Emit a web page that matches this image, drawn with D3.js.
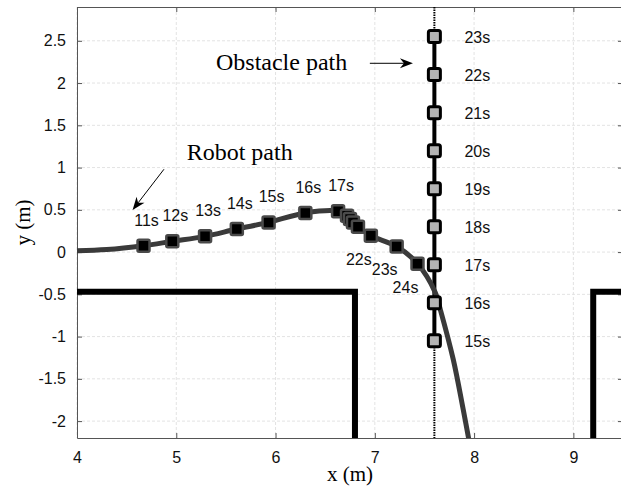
<!DOCTYPE html>
<html>
<head>
<meta charset="utf-8">
<script src="https://cdn.jsdelivr.net/npm/d3@7"></script>
<style>
  body { margin: 0; background: #fff; }
  svg { display: block; }
</style>
</head>
<body>
<div id="chart"></div>
<script>
// robot trajectory (dense line) and time-stamped robot positions
const pathX = [4.0, 4.3, 4.67, 4.96, 5.29, 5.61, 5.93, 6.30, 6.63, 6.72, 6.75, 6.78, 6.83, 6.96, 7.22, 7.43, 7.61, 7.66, 7.79, 7.89, 7.96];
const pathY = [0.017, 0.03, 0.075, 0.127, 0.186, 0.273, 0.351, 0.463, 0.483, 0.43, 0.39, 0.35, 0.30, 0.194, 0.067, -0.137, -0.48, -0.68, -1.27, -1.86, -2.3];

const robotT = [11, 12, 13, 14, 15, 16, 17, 18, 19, 20, 21, 22, 23, 24];
const robotX = [4.67, 4.96, 5.29, 5.61, 5.93, 6.30, 6.63, 6.72, 6.75, 6.78, 6.83, 6.96, 7.22, 7.43];
const robotY = [0.075, 0.127, 0.186, 0.273, 0.351, 0.463, 0.483, 0.43, 0.39, 0.35, 0.30, 0.194, 0.067, -0.137];
const robotLabelled = [11, 12, 13, 14, 15, 16, 17, 22, 23, 24];

// obstacle positions
const obsT = [15, 16, 17, 18, 19, 20, 21, 22, 23];
const obsX = 7.6;
const obsY = [-1.05, -0.6, -0.15, 0.3, 0.75, 1.2, 1.65, 2.1, 2.55];

// walls
const wallLeftX = [4.0, 6.8, 6.8];
const wallLeftY = [-0.47, -0.47, -2.2];
const wallRightX = [9.5, 9.2, 9.2];
const wallRightY = [-0.47, -0.47, -2.2];

const xTicks = [4, 5, 6, 7, 8, 9];
const yTicks = [-2, -1.5, -1, -0.5, 0, 0.5, 1, 1.5, 2, 2.5];

const W = 621, H = 489;
const x = d3.scaleLinear().domain([4, 9.5]).range([77, 623]);
const y = d3.scaleLinear().domain([-2.2, 2.9]).range([438, 7]);

const svg = d3.select("#chart").append("svg")
    .attr("width", W)
    .attr("height", H);

svg.append("defs").append("clipPath").attr("id", "clip")
  .append("rect")
    .attr("x", x(4)).attr("y", y(2.9))
    .attr("width", x(9.5) - x(4)).attr("height", y(-2.2) - y(2.9));

// grid
const grid = svg.append("g").attr("class", "grid");
grid.selectAll(".gx").data(xTicks).enter().append("line")
    .attr("x1", d => x(d)).attr("x2", d => x(d))
    .attr("y1", y(2.9)).attr("y2", y(-2.2))
    .attr("stroke", "#e3e3e3").attr("stroke-dasharray", "3,2");
grid.selectAll(".gy").data(yTicks).enter().append("line")
    .attr("x1", x(4)).attr("x2", x(9.5))
    .attr("y1", d => y(d)).attr("y2", d => y(d))
    .attr("stroke", "#e3e3e3").attr("stroke-dasharray", "3,2");

// axes (MATLAB box, ticks inward on all sides)
const axisColor = "#555";
const styleAxis = g => {
    g.select(".domain").attr("stroke", axisColor);
    g.selectAll(".tick line").attr("stroke", axisColor);
    g.selectAll(".tick text")
        .attr("fill", "#111")
        .style("font-family", "'Liberation Sans', Arial, sans-serif")
        .style("font-size", "16px");
};
svg.append("g")
    .attr("transform", `translate(0,${y(-2.2)})`)
    .call(d3.axisBottom(x).tickValues(xTicks).tickSizeInner(-5).tickSizeOuter(0).tickPadding(14).tickFormat(d3.format("d")))
    .call(styleAxis);
svg.append("g")
    .attr("transform", `translate(0,${y(2.9)})`)
    .call(d3.axisTop(x).tickValues(xTicks).tickSizeInner(-5).tickSizeOuter(0).tickFormat(""))
    .call(styleAxis);
svg.append("g")
    .attr("transform", `translate(${x(4)},0)`)
    .call(d3.axisLeft(y).tickValues(yTicks).tickSizeInner(-5).tickSizeOuter(0).tickPadding(11).tickFormat(d => d3.format("")(d).replace("−", "-")))
    .call(styleAxis);
svg.append("g")
    .attr("transform", `translate(${x(9.5)},0)`)
    .call(d3.axisRight(y).tickValues(yTicks).tickSizeInner(-5).tickSizeOuter(0).tickFormat(""))
    .call(styleAxis);

const plot = svg.append("g").attr("clip-path", "url(#clip)");

// walls
const wallLine = d3.line().x(d => x(d[0])).y(d => y(d[1]));
plot.append("path")
    .datum(d3.zip(wallLeftX, wallLeftY))
    .attr("d", wallLine)
    .attr("fill", "none").attr("stroke", "#000").attr("stroke-width", 6)
    .attr("stroke-linejoin", "miter");
plot.append("path")
    .datum(d3.zip(wallRightX, wallRightY))
    .attr("d", wallLine)
    .attr("fill", "none").attr("stroke", "#000").attr("stroke-width", 6)
    .attr("stroke-linejoin", "miter");

// obstacle path: dotted extension + solid segment
plot.append("line")
    .attr("x1", x(obsX)).attr("x2", x(obsX))
    .attr("y1", y(2.9)).attr("y2", y(-2.2))
    .attr("stroke", "#000").attr("stroke-width", 2).attr("stroke-dasharray", "1.5,1");
plot.append("line")
    .attr("x1", x(obsX)).attr("x2", x(obsX))
    .attr("y1", y(d3.min(obsY))).attr("y2", y(d3.max(obsY)))
    .attr("stroke", "#000").attr("stroke-width", 4);

// robot path
plot.append("path")
    .datum(d3.zip(pathX, pathY))
    .attr("d", d3.line().x(d => x(d[0])).y(d => y(d[1])).curve(d3.curveCatmullRom.alpha(0.5)))
    .attr("fill", "none").attr("stroke", "#3a3a3a").attr("stroke-width", 5);

// robot markers
const robotData = robotT.map((t, i) => ({ t: t, x: robotX[i], y: robotY[i] }));
plot.selectAll(".rm").data(robotData).enter().append("rect")
    .attr("class", "rm")
    .attr("x", d => x(d.x) - 6).attr("y", d => y(d.y) - 6)
    .attr("width", 12).attr("height", 12)
    .attr("rx", 1.5)
    .attr("fill", "#000").attr("stroke", "#4a4a4a").attr("stroke-width", 2.5);

// obstacle markers
const obsData = obsT.map((t, i) => ({ t: t, y: obsY[i] }));
plot.selectAll(".om").data(obsData).enter().append("rect")
    .attr("class", "om")
    .attr("x", x(obsX) - 6).attr("y", d => y(d.y) - 6)
    .attr("width", 12).attr("height", 12)
    .attr("rx", 2)
    .attr("fill", "#b4b4b4").attr("stroke", "#000").attr("stroke-width", 3);

// time labels
const labelFont = "'Liberation Sans', Arial, sans-serif";
svg.selectAll(".rl").data(robotData.filter(d => robotLabelled.includes(d.t))).enter().append("text")
    .attr("class", "rl")
    .attr("x", d => d.t <= 17 ? x(d.x) + 3 : x(d.x) - 12)
    .attr("y", d => d.t <= 17 ? y(d.y) - 20 : y(d.y) + 29)
    .attr("text-anchor", "middle")
    .style("font-family", labelFont).style("font-size", "16px")
    .attr("fill", "#111")
    .text(d => d.t + "s");
svg.selectAll(".ol").data(obsData).enter().append("text")
    .attr("class", "ol")
    .attr("x", x(obsX) + 30)
    .attr("y", d => y(d.y) + 6)
    .style("font-family", labelFont).style("font-size", "16px")
    .attr("fill", "#111")
    .text(d => d.t + "s");

// annotations
const serif = "'Liberation Serif', 'Times New Roman', serif";
svg.append("text")
    .attr("x", x(5.40)).attr("y", y(2.15))
    .style("font-family", serif).style("font-size", "24px")
    .text("Obstacle path");
svg.append("text")
    .attr("x", x(5.105)).attr("y", y(1.09))
    .style("font-family", serif).style("font-size", "24px")
    .text("Robot path");

function arrow(x0, y0, x1, y1) {
    const px0 = x(x0), py0 = y(y0), px1 = x(x1), py1 = y(y1);
    const a = Math.atan2(py1 - py0, px1 - px0);
    const len = 13, half = 5, back = 9;
    const bx = px1 - len * Math.cos(a), by = py1 - len * Math.sin(a);
    const nx = -Math.sin(a), ny = Math.cos(a);
    const mx = px1 - back * Math.cos(a), my = py1 - back * Math.sin(a);
    svg.append("line")
        .attr("x1", px0).attr("y1", py0).attr("x2", mx).attr("y2", my)
        .attr("stroke", "#000").attr("stroke-width", 1);
    svg.append("path")
        .attr("d", `M${px1},${py1}L${bx + nx * half},${by + ny * half}L${mx},${my}L${bx - nx * half},${by - ny * half}Z`)
        .attr("fill", "#000");
}
arrow(6.95, 2.234, 7.384, 2.234);
arrow(4.876, 0.98, 4.56, 0.498);

// axis titles
svg.append("text")
    .attr("x", (x(4) + x(9.5)) / 2).attr("y", 481)
    .attr("text-anchor", "middle")
    .style("font-family", serif).style("font-size", "21px")
    .text("x (m)");
svg.append("text")
    .attr("transform", `translate(30,${(y(2.9) + y(-2.2)) / 2}) rotate(-90)`)
    .attr("text-anchor", "middle")
    .style("font-family", serif).style("font-size", "21px")
    .text("y (m)");
</script>
</body>
</html>
